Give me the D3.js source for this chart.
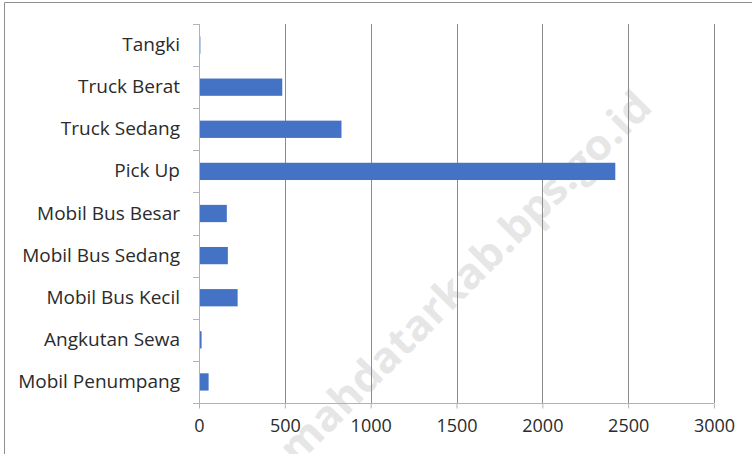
<!DOCTYPE html>
<html>
<head>
<meta charset="utf-8">
<script src="https://cdn.jsdelivr.net/npm/d3@7"></script>
<style>
  body { margin: 0; background: #fff; }
  text { font-family: "Open Sans", "Noto Sans", sans-serif; }
</style>
</head>
<body>
<div id="chart"></div>
<script>
// data, top to bottom as in the chart
const categories = ["Tangki", "Truck Berat", "Truck Sedang", "Pick Up", "Mobil Bus Besar",
    "Mobil Bus Sedang", "Mobil Bus Kecil", "Angkutan Sewa", "Mobil Penumpang"];
const counts = [8, 485, 830, 2425, 162, 168, 225, 15, 56];
const xTicks = [0, 500, 1000, 1500, 2000, 2500, 3000];

const width = 752, height = 454;
const margin = {top: 24, right: 38, bottom: 51, left: 199};

let svg = d3.select("#chart")
    .append("svg")
    .attr("width", width)
    .attr("height", height);

// outer frame (only left & top edges are in view)
svg.append("path")
    .attr("d", `M4.5,${height} V2.5 H${width}`)
    .attr("fill", "none")
    .attr("stroke", "#8f8f8f");

// watermark, sits under the grid
svg.append("text")
    .attr("transform", "translate(465, 277) rotate(-45)")
    .attr("text-anchor", "middle")
    .attr("dy", "0.35em")
    .attr("textLength", 505)
    .attr("lengthAdjust", "spacingAndGlyphs")
    .style("font-size", "42px")
    .style("font-weight", "bold")
    .attr("fill", "#e6e6e6")
    .text("mahdatarkab.bps.go.id");

let g = svg.append("g")
    .attr("transform", `translate(${margin.left}, ${margin.top})`);

const w = width - margin.left - margin.right;
const h = height - margin.top - margin.bottom;

let x = d3.scaleLinear()
    .domain([0, 3000])
    .range([0, w]);

let y = d3.scaleBand()
    .domain(categories)
    .range([0, h])
    .padding(0);

// vertical gridlines
g.append("g")
    .selectAll("line")
    .data(xTicks.slice(1))
    .enter()
    .append("line")
    .attr("x1", d => Math.round(x(d)) + 0.5)
    .attr("x2", d => Math.round(x(d)) + 0.5)
    .attr("y1", 0)
    .attr("y2", h)
    .attr("stroke", "#8c8c8c");

// bars
const barH = y.bandwidth() * 0.41;
g.append("g")
    .selectAll("rect")
    .data(categories)
    .enter()
    .append("rect")
    .attr("x", x(0))
    .attr("y", d => y(d) + (y.bandwidth() - barH) / 2)
    .attr("width", (d, i) => x(counts[i]))
    .attr("height", barH)
    .attr("fill", "#4472c4");

// y axis: labels from d3, tick marks at band edges
let yAxis = g.append("g")
    .call(d3.axisLeft(y).tickSize(0).tickPadding(19));
yAxis.select(".domain").remove();
yAxis.selectAll("text")
    .style("font-size", "19px")
    .attr("fill", "#2b2b2b");

let edges = categories.map(d => y(d)).concat([h]);
g.append("g")
    .selectAll("line")
    .data(edges)
    .enter()
    .append("line")
    .attr("x1", -6)
    .attr("x2", 0)
    .attr("y1", d => Math.round(d) + 0.5)
    .attr("y2", d => Math.round(d) + 0.5)
    .attr("stroke", "#b3b3b3");

g.append("line")
    .attr("x1", 0.5).attr("x2", 0.5)
    .attr("y1", 0).attr("y2", h)
    .attr("stroke", "#b3b3b3");

// x axis
let xAxis = g.append("g")
    .attr("transform", `translate(0, ${Math.round(h) + 0.5})`)
    .call(d3.axisBottom(x).tickValues(xTicks).tickFormat(d3.format("d"))
        .tickSize(5).tickPadding(11).tickSizeOuter(0));
xAxis.select(".domain")
    .attr("d", `M-6,0H${w}`)
    .attr("stroke", "#b3b3b3");
xAxis.selectAll(".tick line").attr("stroke", "#b3b3b3");
xAxis.selectAll("text")
    .style("font-size", "18px")
    .attr("fill", "#2b2b2b");
</script>
</body>
</html>
